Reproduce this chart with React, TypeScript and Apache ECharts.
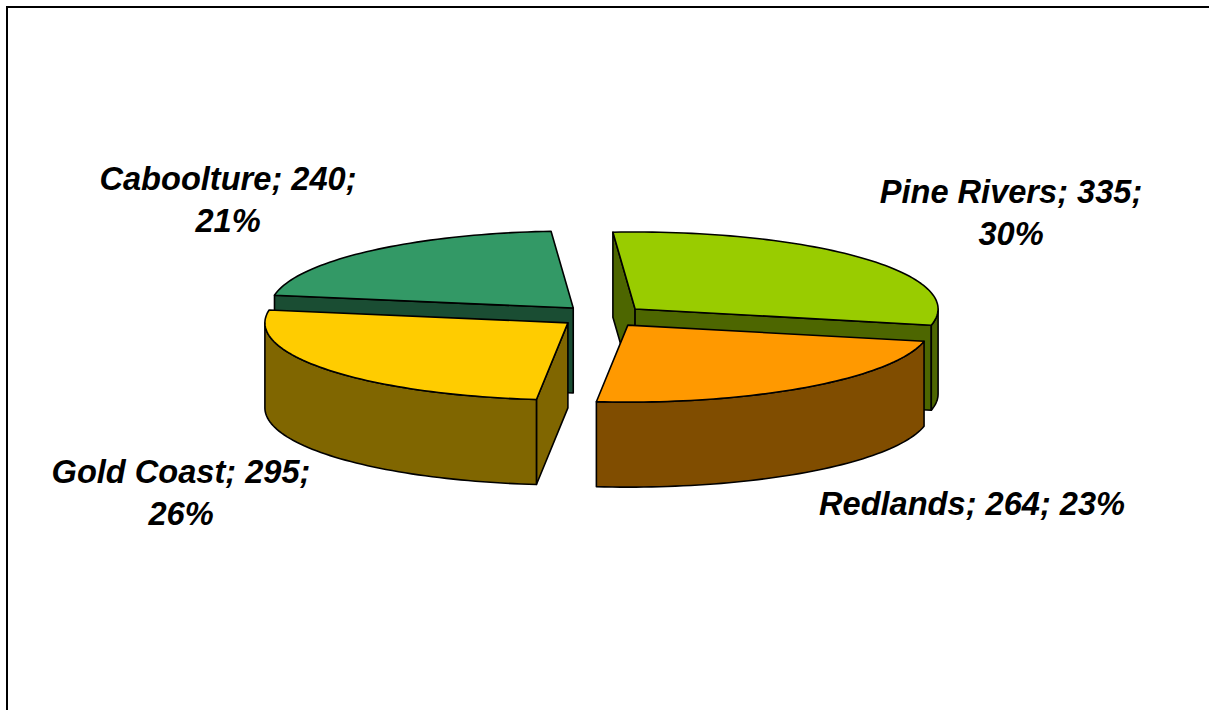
import React, { useEffect, useRef } from "react";
import * as echarts from "echarts";

const regions = ["Pine Rivers", "Redlands", "Gold Coast", "Caboolture"];
const counts = [335, 264, 295, 240];
const topColors = ["#99CC00", "#FF9900", "#FFCC00", "#339966"];
const sideColors = ["#4D6600", "#804D00", "#806600", "#1A4D33"];
// Painter's order: back slices first.
const drawOrder = [3, 0, 2, 1];
const labelCentres = [
  [1011, 212],
  [972, 503],
  [181, 492],
  [228, 199],
];
const labelBreaks = ["\n", " ", "\n", "\n"];

const CX = 602.4;
const CY = 316.2;
const RX = 303;
const RY = 77;
const DEPTH = 85;
const EXPLODE = 0.143;
const START_DEG = -4.2;
const INK = "#000000";
const LINE_W = 1.6;

const total = counts.reduce((a, b) => a + b, 0);
const starts: number[] = [];
counts.reduce((acc, v, i) => {
  starts[i] = acc;
  return acc + (v / total) * 360;
}, START_DEG);

const rad = (d: number) => (d * Math.PI) / 180;

function renderSlice(params: any, api: any) {
  const i = api.value(1);
  const value = api.value(0);
  const sweep = (value / total) * 360;
  const a0 = starts[i];
  const a1 = a0 + sweep;
  const mid = rad(a0 + sweep / 2);
  const ax = CX + EXPLODE * RX * Math.sin(mid);
  const ay = CY - EXPLODE * RY * Math.cos(mid);
  const rim = (deg: number, dz = 0) => [
    ax + RX * Math.sin(rad(deg)),
    ay - RY * Math.cos(rad(deg)) + dz,
  ];
  const steps = Math.ceil(sweep / 1.5);
  const arcPts: number[][] = [];
  for (let k = 0; k <= steps; k++) arcPts.push(rim(a0 + (sweep * k) / steps));

  const poly = (points: number[][], fill: string) => ({
    type: "polygon",
    shape: { points },
    style: { fill, stroke: INK, lineWidth: LINE_W, lineJoin: "round" },
  });
  const wall = (deg: number) =>
    poly([[ax, ay], rim(deg), rim(deg, DEPTH), [ax, ay + DEPTH]], sideColors[i]);

  const children: any[] = [];
  // Only the radial walls that face the viewer are drawn.
  if (Math.sin(rad(a0)) < 0) children.push(wall(a0));
  if (Math.sin(rad(a1)) > 0) children.push(wall(a1));

  // Outer curved wall: only the part facing the viewer (90..270 degrees).
  const from = Math.max(a0, 90);
  const to = Math.min(a1, 270);
  if (to > from) {
    const n = Math.ceil((to - from) / 1.5);
    const upper: number[][] = [];
    const lower: number[][] = [];
    for (let k = 0; k <= n; k++) {
      const d = from + ((to - from) * k) / n;
      upper.push(rim(d));
      lower.unshift(rim(d, DEPTH));
    }
    children.push(poly(upper.concat(lower), sideColors[i]));
  }
  children.push(poly([[ax, ay], ...arcPts], topColors[i]));
  return { type: "group", children };
}

function renderLabel(params: any, api: any) {
  const i = api.value(1);
  const value = api.value(0);
  const pct = Math.round((value / total) * 100);
  const [x, y] = labelCentres[i];
  return {
    type: "text",
    style: {
      text: `${regions[i]}; ${value};${labelBreaks[i]}${pct}%`,
      x,
      y,
      align: "center",
      verticalAlign: "middle",
      fill: "#000000",
      fontFamily: "Liberation Sans",
      fontWeight: "bold",
      fontStyle: "italic",
      fontSize: 32.6,
      lineHeight: 42,
    },
  };
}

export default function App() {
  const ref = useRef<HTMLDivElement>(null);
  useEffect(() => {
    document.body.style.margin = "0";
    const chart = echarts.init(ref.current!, undefined, { renderer: "svg" });
    const data = drawOrder.map((i) => ({ name: regions[i], value: [counts[i], i] }));
    chart.setOption({
      animation: false,
      backgroundColor: "#FFFFFF",
      graphic: [
        { type: "line", shape: { x1: 6, y1: 7, x2: 1209, y2: 7 }, style: { stroke: "#000", lineWidth: 2 } },
        { type: "line", shape: { x1: 7, y1: 6, x2: 7, y2: 710 }, style: { stroke: "#000", lineWidth: 2 } },
      ],
      series: [
        { type: "custom", coordinateSystem: "none", renderItem: renderSlice, data, silent: true, z: 2 },
        { type: "custom", coordinateSystem: "none", renderItem: renderLabel, data, silent: true, z: 3 },
      ],
    });
    return () => chart.dispose();
  }, []);
  return <div ref={ref} style={{ width: 1209, height: 710 }} />;
}
